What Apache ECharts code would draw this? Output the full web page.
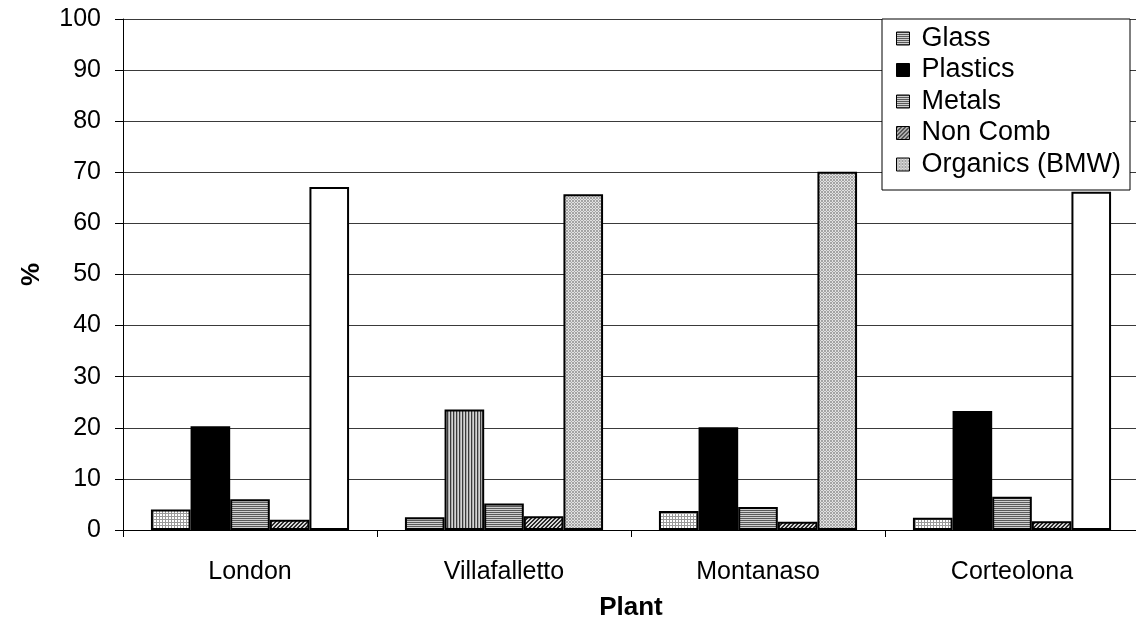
<!DOCTYPE html>
<html>
<head>
<meta charset="utf-8">
<title>Waste composition by plant</title>
<script src="https://cdn.jsdelivr.net/npm/echarts@6/dist/echarts.min.js"></script>
<style>
  html, body { margin: 0; padding: 0; background: #fff; }
  #chart { width: 1136px; height: 631px; }
</style>
</head>
<body>
<div id="chart"></div>
<script>
// Plants on the category axis
const plants = ['London', 'Villafalletto', 'Montanaso', 'Corteolona'];

// Share of each fraction (%) per plant
const glass    = [4.0, 2.5, 3.7, 2.4];
const plastics = [20.3, 23.6, 20.1, 23.3];
const metals   = [6.0, 5.2, 4.5, 6.5];
const nonComb  = [2.0, 2.7, 1.6, 1.7];
const organics = [67.1, 65.7, 70.1, 66.2];

const seriesNames = ['Glass', 'Plastics', 'Metals', 'Non Comb', 'Organics (BMW)'];
const yTicks = [0, 10, 20, 30, 40, 50, 60, 70, 80, 90, 100];

// --- fill patterns -------------------------------------------------------
function makeTile(w, h, painter) {
  const c = document.createElement('canvas');
  c.width = w; c.height = h;
  const ctx = c.getContext('2d');
  for (let y = 0; y < h; y++) {
    for (let x = 0; x < w; x++) {
      ctx.fillStyle = painter(x, y);
      ctx.fillRect(x, y, 1, 1);
    }
  }
  return { image: c, repeat: 'repeat' };
}

const fills = {
  black: '#000000',
  white: '#ffffff',
  grid: makeTile(3, 3, (x, y) => (x === 0 || y === 0) ? '#9a9a9a' : '#ffffff'),
  hstripe: makeTile(2, 2, (x, y) => y === 0 ? '#5a5a5a' : '#cfcfcf'),
  vstripe: makeTile(3, 3, (x, y) => x === 0 ? '#3a3a3a' : (x === 1 ? '#a8a8a8' : '#d4d4d4')),
  diag: makeTile(4, 4, (x, y) => ((x + y) % 4 < 2) ? '#2a2a2a' : '#d8d8d8'),
  dots: makeTile(3, 3, (x, y) => ((x + y) % 2 === 0) ? '#a4a4a4' : '#e2e2e2')
};

// fill used in the legend for each series
const legendFill = ['hstripe', 'black', 'hstripe', 'diag', 'dots'];
// fill for each bar: [series][plant]
const barFill = [
  ['grid', 'hstripe', 'grid', 'grid'],
  ['black', 'vstripe', 'black', 'black'],
  ['hstripe', 'hstripe', 'hstripe', 'hstripe'],
  ['diag', 'diag', 'diag', 'diag'],
  ['white', 'dots', 'dots', 'white']
];

const values = [glass, plastics, metals, nonComb, organics];

const font = "'Liberation Sans', Arial, sans-serif";

const series = values.map((arr, s) => ({
  name: seriesNames[s],
  type: 'bar',
  barGap: '0%',
  barCategoryGap: '22%',
  itemStyle: { color: fills[legendFill[s]], borderColor: '#000', borderWidth: 2 },
  emphasis: { disabled: true },
  data: arr.map((v, i) => ({
    value: v,
    itemStyle: { color: fills[barFill[s][i]], borderColor: '#000', borderWidth: 2 }
  }))
}));

const chart = echarts.init(document.getElementById('chart'), null, { renderer: 'canvas' });
chart.setOption({
  animation: false,
  backgroundColor: '#ffffff',
  grid: { left: 123, right: -3, top: 19, bottom: 101, containLabel: false, outerBoundsMode: 'none' },
  legend: {
    orient: 'vertical',
    left: 882,
    top: 19,
    padding: [6, 9, 12, 14],
    backgroundColor: '#ffffff',
    borderColor: '#000',
    borderWidth: 1,
    itemWidth: 13,
    itemHeight: 13,
    itemGap: 4.5,
    itemStyle: { borderColor: '#000', borderWidth: 1 },
    icon: 'rect',
    textStyle: { fontFamily: font, fontSize: 27, color: '#000', lineHeight: 27, padding: [0, 0, 0, 7] },
    selectedMode: false,
    data: seriesNames
  },
  xAxis: {
    type: 'category',
    data: plants,
    name: 'Plant',
    nameLocation: 'middle',
    nameGap: 65,
    nameTextStyle: { fontFamily: font, fontSize: 26, fontWeight: 'bold', color: '#000' },
    axisLine: { lineStyle: { color: '#000', width: 1 } },
    axisTick: { show: true, inside: false, length: 7, lineStyle: { color: '#000' } },
    axisLabel: { fontFamily: font, fontSize: 25, color: '#000', margin: 30 },
    splitLine: { show: false }
  },
  yAxis: {
    type: 'value',
    min: yTicks[0],
    max: yTicks[yTicks.length - 1],
    interval: yTicks[1] - yTicks[0],
    name: '%',
    nameLocation: 'middle',
    nameRotate: 90,
    nameGap: 78,
    nameTextStyle: { fontFamily: font, fontSize: 26, fontWeight: 'bold', color: '#000' },
    axisLine: { show: true, lineStyle: { color: '#000', width: 1 } },
    axisTick: { show: true, inside: false, length: 8, lineStyle: { color: '#000' } },
    axisLabel: { fontFamily: font, fontSize: 25, color: '#000', margin: 22 },
    splitLine: { show: true, lineStyle: { color: '#3a3a3a', width: 1 } }
  },
  series: series
});
</script>
</body>
</html>
